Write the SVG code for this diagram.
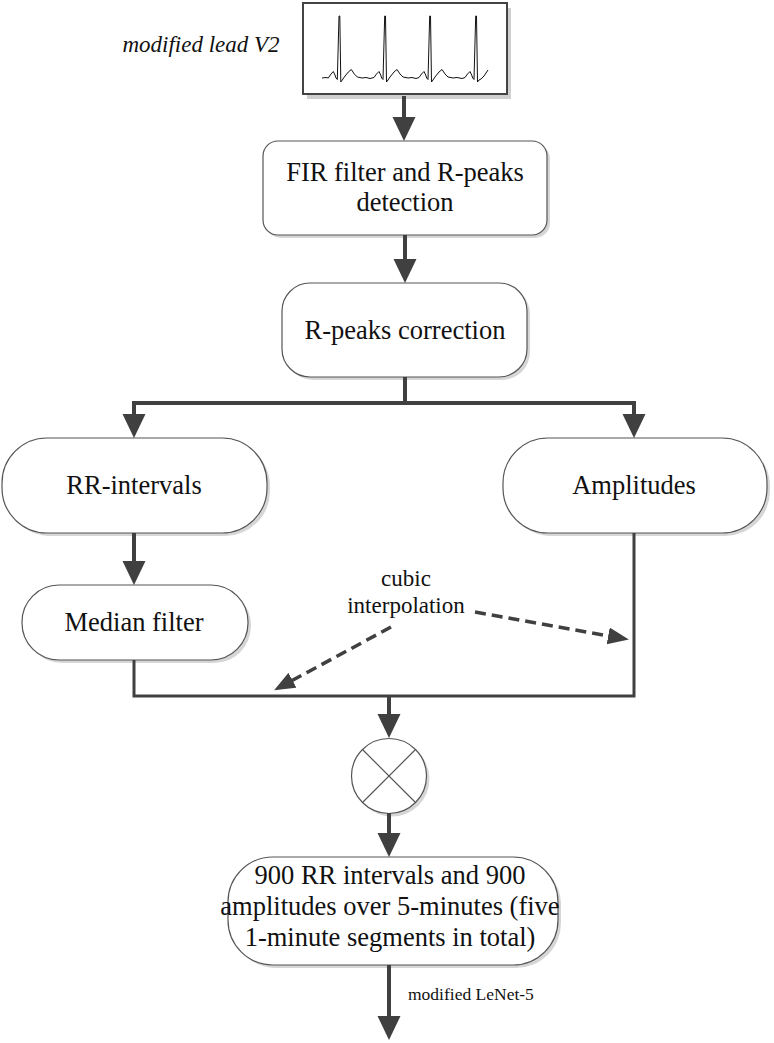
<svg xmlns="http://www.w3.org/2000/svg" width="774" height="1043" viewBox="0 0 774 1043">
<style>
text{font-family:"Liberation Serif","Times New Roman",serif;fill:#111;text-anchor:middle}
.lbl{font-size:26.5px}
.shadow{fill:#d6d6d6;stroke:none}
.box{fill:#fff;stroke:#555;stroke-width:1.2}
.con{fill:none;stroke:#404040;stroke-width:4}
.thin{fill:none;stroke:#404040;stroke-width:3}
.dash{fill:none;stroke:#404040;stroke-width:3.5;stroke-dasharray:11 6}
</style>
<defs>
<marker id="ah" markerUnits="userSpaceOnUse" markerWidth="24" markerHeight="24" refX="14" refY="11.5" orient="auto">
<path d="M0,0 L24,11.5 L0,23 z" fill="#404040"/>
</marker>
<marker id="ahd" markerUnits="userSpaceOnUse" markerWidth="22" markerHeight="20" refX="12" refY="8.5" orient="auto">
<path d="M0,0 L21,8.5 L0,17 z" fill="#404040"/>
</marker>
</defs>
<rect width="774" height="1043" fill="#fff"/>

<g id="ecg">
<text x="201" y="52" style="font-size:23px;font-style:italic">modified lead V2</text>
<rect x="307" y="8" width="204" height="91" fill="#cfcfcf"/>
<rect x="303" y="3" width="204" height="91" fill="#fff" stroke="#444" stroke-width="2"/>
<path fill="none" stroke="#111" stroke-width="1" d="M322,78 L326,77.5 L328.3,78 L331,74 L333.3,71.5 L335,75 L336,78 L337.3,79.5 L339,16 L339.8,16 L340.8,82 L342.3,80 L344.3,77 L348.3,72 L351.3,69.5 L354.3,74 L357.3,77 L362,78 L366,77.5 L370,78.5 L374,77.5 L376.5,74 L379,71.5 L380.7,75 L381.7,78 L383,79.5 L384.7,16 L385.5,16 L386.5,82 L388,80 L390,77 L394,72 L397,69.5 L400,74 L403,77 L408,78 L412,77.5 L416,78.5 L419,77.5 L421.5,74 L424,71.5 L425.7,75 L426.7,78 L428,79.5 L429.7,16 L430.5,16 L431.5,82 L433,80 L435,77 L439,72 L442,69.5 L445,74 L448,77 L453,78 L457,77.5 L462,78.5 L465,77.5 L467.5,74 L470,71.5 L471.7,75 L472.7,78 L474,79.5 L475.7,16 L476.5,16 L477.5,82 L479,80 L481,79 L484,76 L488,70"/>
</g>

<g id="fir">
<rect class="shadow" x="266" y="144" width="284" height="94" rx="15"/>
<rect class="box" x="263" y="141" width="284" height="94" rx="15"/>
<text class="lbl" x="405" y="181">FIR filter and R-peaks</text>
<text class="lbl" x="405" y="211">detection</text>
</g>

<g id="rpeaks">
<rect class="shadow" x="285" y="286" width="245" height="94" rx="28"/>
<rect class="box" x="282" y="283" width="245" height="94" rx="28"/>
<text class="lbl" x="405" y="339">R-peaks correction</text>
</g>

<g id="rr">
<rect class="shadow" x="5" y="441" width="265" height="95" rx="45"/>
<rect class="box" x="2" y="438" width="265" height="95" rx="45"/>
<text class="lbl" x="134" y="494">RR-intervals</text>
</g>

<g id="amp">
<rect class="shadow" x="506" y="441" width="264" height="95" rx="45"/>
<rect class="box" x="503" y="438" width="264" height="95" rx="45"/>
<text class="lbl" x="634" y="494">Amplitudes</text>
</g>

<g id="median">
<rect class="shadow" x="25" y="588" width="226" height="75" rx="37"/>
<rect class="box" x="22" y="585" width="226" height="75" rx="37"/>
<text class="lbl" x="134" y="631">Median filter</text>
</g>

<g id="mult">
<circle cx="392" cy="779" r="37.5" class="shadow"/>
<circle cx="389" cy="776" r="37.5" class="box"/>
<path d="M362.5,749.5 L415.5,802.5 M415.5,749.5 L362.5,802.5" stroke="#555" stroke-width="1.2"/>
</g>

<g id="output">
<rect class="shadow" x="231" y="860" width="330" height="108" rx="45"/>
<rect class="box" x="228" y="857" width="330" height="108" rx="45"/>
<text class="lbl" x="390" y="884">900 RR intervals and 900</text>
<text class="lbl" x="390" y="915">amplitudes over 5-minutes (five</text>
<text class="lbl" x="390" y="946">1-minute segments in total)</text>
</g>

<g id="labels">
<text style="font-size:23px" x="406" y="586">cubic</text>
<text style="font-size:23px" x="406" y="613">interpolation</text>
<text style="font-size:17.5px;text-anchor:start" x="408" y="1000">modified LeNet-5</text>
</g>

<g id="connectors">
<path class="con" d="M404,96 V131" marker-end="url(#ah)"/>
<path class="con" d="M405,235 V273" marker-end="url(#ah)"/>
<path class="con" d="M405,377 V403"/>
<path class="con" d="M134,428 V403 H634 V428" />
<path class="con" d="M134,405 V428" marker-end="url(#ah)"/>
<path class="con" d="M634,405 V428" marker-end="url(#ah)"/>
<path class="con" d="M134,533 V575" marker-end="url(#ah)"/>
<path class="thin" d="M134,660 V696 H634 V533"/>
<path class="con" d="M389,696 V728" marker-end="url(#ah)"/>
<path class="con" d="M389,813 V847" marker-end="url(#ah)"/>
<path class="con" d="M389,965 V1030" marker-end="url(#ah)"/>
<path class="dash" d="M475,612 L620,638" marker-end="url(#ahd)"/>
<path class="dash" d="M391,627 L282,686" marker-end="url(#ahd)"/>
</g>
</svg>
